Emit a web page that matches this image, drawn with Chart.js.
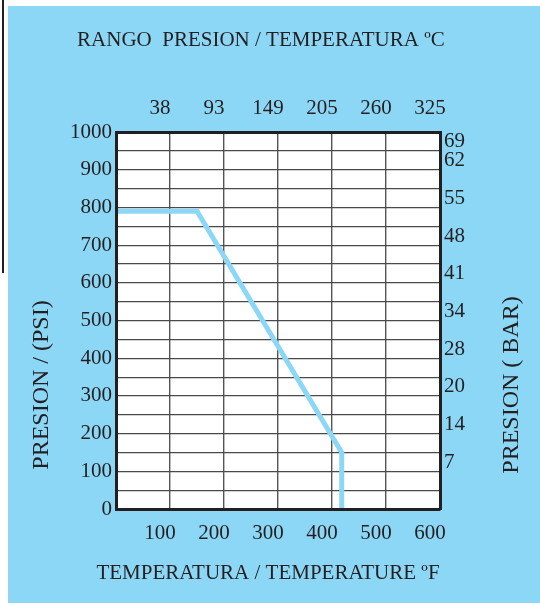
<!DOCTYPE html>
<html>
<head>
  <title>Rango presion / temperatura</title>
  <script src="https://cdn.jsdelivr.net/npm/chart.js"></script>
  <style>
    body {
      margin: 0;
      background-color: #ffffff;
      width: 540px;
      height: 603px;
      overflow: hidden;
      position: relative;
    }
    .edge {
      position: absolute;
      left: 2px;
      top: 0;
      width: 2px;
      height: 273px;
      background-color: #231f20;
    }
    .panel {
      position: absolute;
      left: 8px;
      top: 6px;
      width: 532px;
      height: 597px;
      background-color: #8dd7f6;
    }
  </style>
</head>
<body>
  <div class="edge"></div>
  <div class="panel">
    <canvas id="rangeChart" width="532" height="597"></canvas>
  </div>

  <script>
    // curva presion / temperatura
    const tempF = [0, 150, 418, 418];
    const pressurePsi = [790, 790, 150, 0];

    // etiquetas de los ejes
    const fahrenheitTicks = [100, 200, 300, 400, 500, 600];
    const celsiusLabels = ['38', '93', '149', '205', '260', '325'];
    const psiTicks = [100, 200, 300, 400, 500, 600, 700, 800, 900, 1000];
    const barLabels = ['7', '14', '20', '28', '34', '41', '48', '55', '62', '69'];

    const ink = '#231f20';
    const serif = "'Liberation Serif', 'DejaVu Serif', serif";

    // fondo blanco del area del grafico
    const plotBackground = {
      id: 'plotBackground',
      beforeDraw(chart) {
        const { ctx, chartArea: a } = chart;
        ctx.save();
        ctx.fillStyle = '#ffffff';
        ctx.fillRect(a.left, a.top, a.right - a.left, a.bottom - a.top);
        ctx.restore();
      }
    };

    // titulos de ejes: los verticales se leen de abajo hacia arriba
    const axisTitles = {
      id: 'axisTitles',
      afterDraw(chart) {
        const { ctx, chartArea: a } = chart;
        const items = [
          { text: 'PRESION / (PSI)', x: a.left - 74, y: a.bottom - 124, size: 24, rot: -Math.PI / 2 },
          { text: 'PRESION ( BAR)', x: a.right + 72, y: a.bottom - 124, size: 24, rot: -Math.PI / 2 },
          { text: 'TEMPERATURA / TEMPERATURE ºF', x: a.left + 152, y: a.bottom + 64, size: 21, rot: 0 }
        ];
        ctx.save();
        ctx.fillStyle = ink;
        ctx.textAlign = 'center';
        ctx.textBaseline = 'middle';
        items.forEach(t => {
          ctx.save();
          ctx.font = t.size + 'px ' + serif;
          ctx.translate(t.x, t.y);
          ctx.rotate(t.rot);
          ctx.fillText(t.text, 0, 0);
          ctx.restore();
        });
        ctx.restore();
      }
    };

    const borderStyle = { display: true, color: ink, width: 3, z: 1 };

    new Chart(document.getElementById('rangeChart'), {
      type: 'line',
      data: {
        datasets: [{
          data: tempF.map((t, i) => ({ x: t, y: pressurePsi[i] })),
          borderColor: '#8dd7f6',
          borderWidth: 5,
          pointRadius: 0,
          tension: 0,
          borderJoinStyle: 'miter'
        }]
      },
      options: {
        responsive: false,
        devicePixelRatio: 1,
        animation: false,
        layout: { padding: 0 },
        plugins: {
          legend: { display: false },
          tooltip: { enabled: false },
          title: {
            display: true,
            text: 'RANGO  PRESION / TEMPERATURA ºC     ',
            color: ink,
            font: { family: serif, size: 21, weight: 'normal' },
            padding: { top: 22, bottom: 10 }
          }
        },
        scales: {
          x: {
            type: 'linear',
            position: 'bottom',
            min: 0,
            max: 600,
            afterBuildTicks: s => { s.ticks = fahrenheitTicks.map(v => ({ value: v })); },
            afterFit: s => { s.height = 94; },
            grid: { color: '#555555', lineWidth: 1.4, drawTicks: false },
            border: borderStyle,
            ticks: {
              color: ink,
              font: { family: serif, size: 21 },
              padding: 12,
              labelOffset: -10,
              autoSkip: false,
              maxRotation: 0
            }
          },
          x2: {
            type: 'linear',
            position: 'top',
            min: 0,
            max: 600,
            afterBuildTicks: s => { s.ticks = fahrenheitTicks.map(v => ({ value: v })); },
            afterFit: s => { s.height = 69; },
            grid: { display: false, drawTicks: false },
            border: borderStyle,
            ticks: {
              color: ink,
              font: { family: serif, size: 21 },
              padding: 11,
              labelOffset: -10,
              autoSkip: false,
              maxRotation: 0,
              callback: v => celsiusLabels[fahrenheitTicks.indexOf(v)]
            }
          },
          y: {
            type: 'linear',
            position: 'left',
            min: 0,
            max: 1000,
            afterFit: s => { s.width = 108; },
            grid: { color: '#4a4a4a', lineWidth: 1.2, drawTicks: false },
            border: borderStyle,
            ticks: {
              stepSize: 50,
              color: ink,
              font: { family: serif, size: 21 },
              padding: 4,
              autoSkip: false,
              callback: v => (v % 100 === 0 ? String(v) : '')
            }
          },
          y2: {
            type: 'linear',
            position: 'right',
            min: 0,
            max: 1000,
            afterBuildTicks: s => { s.ticks = psiTicks.map(v => ({ value: v })); },
            afterFit: s => { s.width = 100; },
            grid: { display: false, drawTicks: false },
            border: borderStyle,
            ticks: {
              color: ink,
              font: { family: serif, size: 21, lineHeight: '36px' },
              padding: 4,
              labelOffset: -9,
              autoSkip: false,
              callback: v => {
                const label = barLabels[psiTicks.indexOf(v)];
                // la etiqueta superior va debajo del borde
                return v === 1000 ? ['', label] : label;
              }
            }
          }
        }
      },
      plugins: [plotBackground, axisTitles]
    });
  </script>
</body>
</html>
